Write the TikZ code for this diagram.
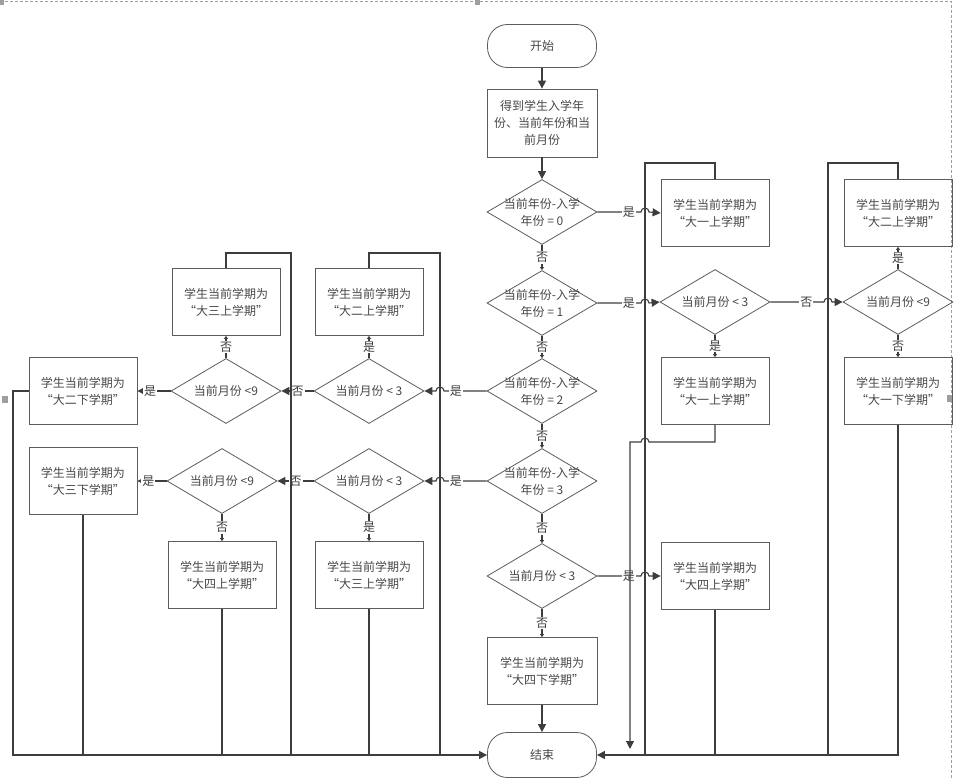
\documentclass[tikz,border=0pt]{standalone}
\usepackage{fontspec}
\setmainfont{Noto Sans CJK SC}
\usepackage{tikz}
\usetikzlibrary{shapes.geometric}
\usetikzlibrary{arrows.meta}
\usetikzlibrary{calc}
\definecolor{lineColor}{rgb}{0.24,0.24,0.24}
\definecolor{borderColor}{rgb}{0.36,0.36,0.36}
\definecolor{textColor}{rgb}{0.28,0.28,0.28}
\definecolor{pageColor}{rgb}{0.62,0.62,0.62}

\begin{document}
\begin{tikzpicture}[x=1pt,y=-1pt,font=\fontsize{12}{17}\selectfont,text=textColor]

          \tikzstyle{termNode} = [draw=borderColor,line width=0.8pt,rounded corners=20pt,minimum width=109pt,inner sep=0pt];
          \tikzstyle{procNode} = [draw=borderColor,line width=0.8pt,minimum width=108pt,minimum height=67pt,align=center,inner sep=0pt];
          \tikzstyle{decisionNode} = [draw=borderColor,line width=0.8pt,diamond,minimum width=110pt,minimum height=65pt,inner sep=0pt];
          \tikzstyle{flowEdge} = [lineColor,line width=1.1pt,-{Triangle[length=8pt,width=8pt]}];
          \tikzstyle{shortEdge} = [lineColor,line width=1.1pt,-{Triangle[length=3pt,width=4pt]}];
          \tikzstyle{plainEdge} = [lineColor,line width=1.1pt];
          \tikzstyle{choice} = [fill=white,inner sep=1pt];

          \useasboundingbox (0,0) rectangle (954,779);

          % page border
          \draw[pageColor,dash pattern=on 3pt off 2pt] (0,1) -- (951,1) -- (951,779);
          \fill[pageColor] (0,0) rectangle (4,5);
          \fill[pageColor] (475,0) rectangle (480,5);
          \fill[pageColor] (2,396) rectangle (8,403);
          \fill[pageColor] (947,395) rectangle (953,402);

          % main column
          \node[termNode,minimum height=43pt] (start) at (542,46) {开始};
          \node[procNode,minimum width=110pt,minimum height=68pt] (input) at (542,123) {得到学生入学年\\份、当前年份和当\\前月份};
          \node[decisionNode,label={[align=center]center:{当前年份-入学\\年份 = 0}}] (d0) at (542,212) {};
          \node[decisionNode,label={[align=center]center:{当前年份-入学\\年份 = 1}}] (d1) at (542,303) {};
          \node[decisionNode,label={[align=center]center:{当前年份-入学\\年份 = 2}}] (d2) at (542,391) {};
          \node[decisionNode,label={[align=center]center:{当前年份-入学\\年份 = 3}}] (d3) at (542,481) {};
          \node[decisionNode,label={center:当前月份 < 3}] (d4) at (542,576) {};
          \node[procNode,minimum width=110pt] (last) at (542,671) {学生当前学期为\\“大四下学期”};
          \node[termNode,minimum height=45pt] (end) at (542,755) {结束};

          % right side
          \node[procNode] (r1a) at (715,213) {学生当前学期为\\“大一上学期”};
          \node[decisionNode,label={center:当前月份 < 3}] (r1dia) at (715,302) {};
          \node[procNode] (r1b) at (715,391) {学生当前学期为\\“大一上学期”};
          \node[procNode] (r4) at (715,576) {学生当前学期为\\“大四上学期”};
          \node[procNode] (r2a) at (898,213) {学生当前学期为\\“大二上学期”};
          \node[decisionNode,label={center:当前月份 <9}] (r2dia) at (898,302) {};
          \node[procNode] (r2b) at (898,391) {学生当前学期为\\“大一下学期”};

          % left side
          \node[procNode] (l2a) at (369,302) {学生当前学期为\\“大二上学期”};
          \node[decisionNode,label={center:当前月份 < 3}] (l2dia) at (369,391) {};
          \node[decisionNode,label={center:当前月份 < 3}] (l2dib) at (369,481) {};
          \node[procNode] (l2c) at (369,575) {学生当前学期为\\“大三上学期”};
          \node[procNode] (l3a) at (226,302) {学生当前学期为\\“大三上学期”};
          \node[decisionNode,label={center:当前月份 <9}] (l3dia) at (226,391) {};
          \node[decisionNode,label={center:当前月份 <9}] (l3dib) at (222,481) {};
          \node[procNode] (l4a) at (222,575) {学生当前学期为\\“大四上学期”};
          \node[procNode] (l2b) at (83,391) {学生当前学期为\\“大二下学期”};
          \node[procNode] (l3b) at (83,481) {学生当前学期为\\“大三下学期”};

          \coordinate (busA) at (645,163);
          \coordinate (busB) at (828,163);
          \coordinate (busC) at (440,253);
          \coordinate (busD) at (291,253);
          \coordinate (busL) at (13,391);
          \coordinate (drop) at (630,442);
          \coordinate (dropEnd) at (630,749);

          \draw[flowEdge] (start) -- (input);
          \draw[flowEdge] (input) -- (d0);
          \draw[flowEdge] (d0.east) -- node[choice,pos=0.72] {是} ($(d0.east -| busA)+(-4pt,0)$) arc[start angle=180,end angle=0,radius=4pt] -- (r1a.west);
          \draw[shortEdge] (d0) -- node[choice] {否} (d1);
          \draw[flowEdge] (d1.east) -- node[choice,pos=0.72] {是} ($(d1.east -| busA)+(-4pt,0)$) arc[start angle=180,end angle=0,radius=4pt] -- (r1dia.west);
          \draw[flowEdge] (r1dia.east) -- node[choice,pos=0.67] {否} ($(r1dia.east -| busB)+(-4pt,0)$) arc[start angle=180,end angle=0,radius=4pt] -- (r2dia.west);
          \draw[shortEdge] (r1dia) -- node[choice] {是} (r1b);
          \draw[shortEdge] (r2dia) -- node[choice] {是} (r2a);
          \draw[shortEdge] (r2dia) -- node[choice] {否} (r2b);
          \draw[shortEdge] (d1) -- node[choice] {否} (d2);
          \draw[flowEdge] (d2.west) -- node[choice,pos=0.72] {是} ($(d2.west -| busC)+(4pt,0)$) arc[start angle=0,end angle=180,radius=4pt] -- (l2dia.east);
          \draw[shortEdge] (l2dia) -- node[choice] {是} (l2a);
          \draw[flowEdge] (l2dia) -- node[choice,pos=0.5] {否} (l3dia);
          \draw[shortEdge] (l3dia) -- node[choice] {否} (l3a);
          \draw[flowEdge] (l3dia) -- node[choice,pos=0.62] {是} (l2b);
          \draw[shortEdge] (d2) -- node[choice] {否} (d3);
          \draw[flowEdge] (d3.west) -- node[choice,pos=0.72] {是} ($(d3.west -| busC)+(4pt,0)$) arc[start angle=0,end angle=180,radius=4pt] -- (l2dib.east);
          \draw[flowEdge] (l2dib) -- node[choice,pos=0.5] {否} (l3dib);
          \draw[shortEdge] (l2dib) -- node[choice] {是} (l2c);
          \draw[flowEdge] (l3dib) -- node[choice,pos=0.62] {是} (l3b);
          \draw[shortEdge] (l3dib) -- node[choice] {否} (l4a);
          \draw[shortEdge] (d3) -- node[choice] {否} (d4);
          \draw[flowEdge] (d4.east) -- node[choice,pos=0.72] {是} ($(d4.east -| busA)+(-4pt,0)$) arc[start angle=180,end angle=0,radius=4pt] -- (r4.west);
          \draw[shortEdge] (d4) -- node[choice] {否} (last);
          \draw[flowEdge] (last) -- (end);

          % lines back to the end
          \draw[plainEdge] (r1a.north) |- (busA) -- (busA |- end.east);
          \draw[plainEdge] (r2a.north) |- (busB) -- (busB |- end.east);
          \draw[flowEdge] (r1b.south) |- ($(drop -| busA)+(4pt,0)$) arc[start angle=0,end angle=180,radius=4pt] -- (drop) -- (dropEnd);
          \draw[plainEdge] (r4.south) -- (r4.south |- end.east);
          \draw[flowEdge] (r2b.south) |- (end.east);
          \draw[plainEdge] (l2a.north) |- (busC) -- (busC |- end.west);
          \draw[plainEdge] (l3a.north) |- (busD) -- (busD |- end.west);
          \draw[plainEdge] (l3b.south) -- (l3b.south |- end.west);
          \draw[plainEdge] (l4a.south) -- (l4a.south |- end.west);
          \draw[plainEdge] (l2c.south) -- (l2c.south |- end.west);
          \draw[flowEdge] (l2b.west) -- (busL) |- (end.west);
        \end{tikzpicture}
\end{document}
